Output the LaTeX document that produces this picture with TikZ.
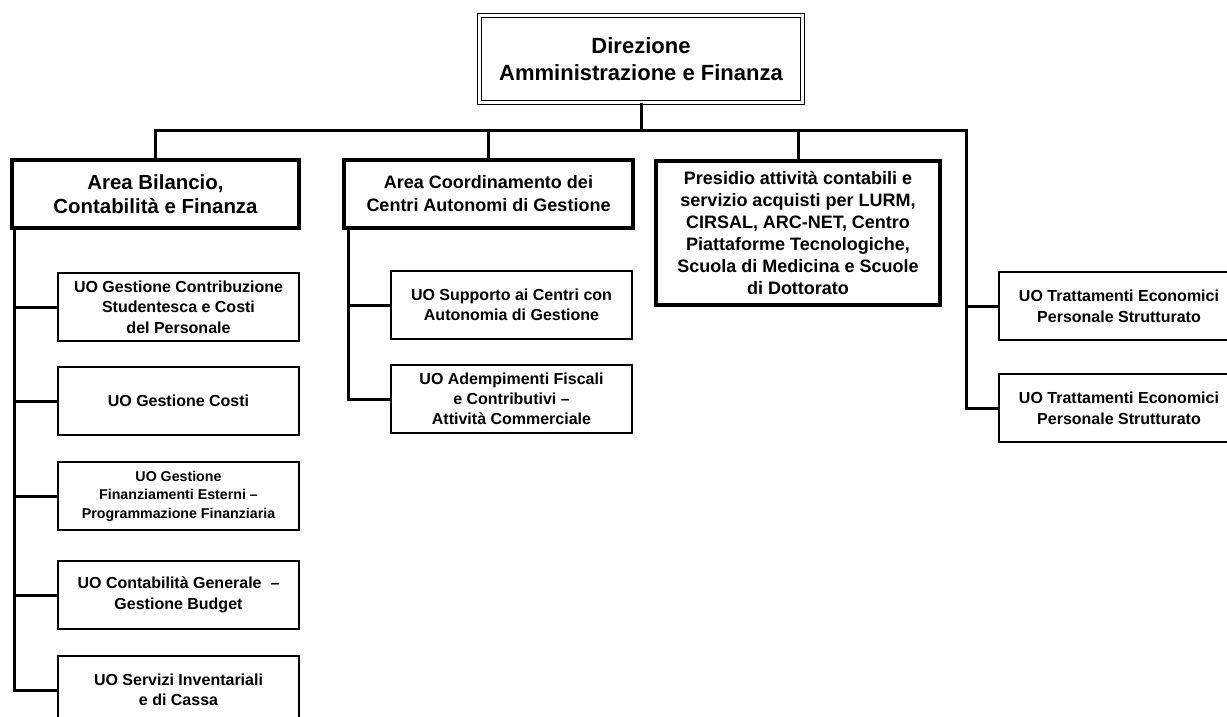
\documentclass[tikz,border=0pt]{standalone}
\usepackage{fontspec}
\setmainfont{Liberation Sans}
\begin{document}
\begin{tikzpicture}[x=1pt,y=-1pt,
  conn/.style={line width=3pt},
  topbox/.style={draw, double, line width=1.5pt, double distance=2.2pt, inner sep=0pt, align=center,
    font=\fontsize{22}{27}\selectfont\bfseries},
  areabox/.style={draw, line width=4pt, inner sep=0pt, align=center},
  uobox/.style={draw, line width=2pt, inner sep=0pt, align=center,
    minimum width=241pt, minimum height=68pt,
    font=\fontsize{16}{20.5}\selectfont\bfseries},
]
\clip (0,0) rectangle (1227,717);
\fill[white] (0,0) rectangle (1227,717);

% top
\node[topbox, minimum width=323pt, minimum height=87pt] (top) at (641,59) {Direzione\\Amministrazione e Finanza};

% areas
\node[areabox, minimum width=287pt, minimum height=68pt, font=\fontsize{20.4}{24}\selectfont\bfseries]
  (a1) at (155.5,194) {Area Bilancio,\\Contabilità e Finanza};
\node[areabox, minimum width=289pt, minimum height=68pt, font=\fontsize{18}{23}\selectfont\bfseries]
  (a2) at (488.5,194) {Area Coordinamento dei\\Centri Autonomi di Gestione};
\node[areabox, minimum width=284pt, minimum height=144pt, font=\fontsize{18}{22}\selectfont\bfseries]
  (p) at (798,233) {Presidio attività contabili e\\servizio acquisti per LURM,\\CIRSAL, ARC-NET, Centro\\Piattaforme Tecnologiche,\\Scuola di Medicina e Scuole\\di Dottorato};

% left column
\node[uobox] (u1) at (178.5,307) {UO Gestione Contribuzione\\Studentesca e Costi\\del Personale};
\node[uobox] (u2) at (178.5,401) {UO Gestione Costi};
\node[uobox, font=\fontsize{14.2}{18.5}\selectfont\bfseries] (u3) at (178.5,496) {UO Gestione\\Finanziamenti Esterni –\\Programmazione Finanziaria};
\node[uobox] (u4) at (178.5,595) {UO Contabilità Generale \ –\\Gestione Budget};
\node[uobox] (u5) at (178.5,690) {UO Servizi Inventariali\\e di Cassa};

% middle column
\node[uobox, font=\fontsize{16}{20.5}\selectfont\bfseries] (v1) at (511.5,305) {UO Supporto ai Centri con\\Autonomia di Gestione};
\node[uobox, font=\fontsize{16}{20}\selectfont\bfseries] (v2) at (511.5,399) {UO Adempimenti Fiscali\\e Contributivi –\\Attività Commerciale};

% right column
\node[uobox, font=\fontsize{16}{21}\selectfont\bfseries] (w1) at (1119,306) {UO Trattamenti Economici\\Personale Strutturato};
\node[uobox, font=\fontsize{16}{21}\selectfont\bfseries] (w2) at (1119,408) {UO Trattamenti Economici\\Personale Strutturato};

% connectors
\coordinate (busL) at (155,130);
\coordinate (busR) at (966,130);
\coordinate (lsp) at (14,0);
\coordinate (csp) at (348,0);

\draw[conn] (top.south) -- (top.south |- busL);
\draw[conn] (a1.north) |- (busR) -- (busR |- w2.west) -- (w2.west);
\draw[conn] (a2.north) -- (a2.north |- busL);
\draw[conn] (p.north) -- (p.north |- busL);
\draw[conn] (busR |- w1.west) -- (w1.west);

\draw[conn] (a1.south -| lsp) |- (u5.west);
\foreach \u in {u1,u2,u3,u4} \draw[conn] (lsp |- \u.west) -- (\u.west);

\draw[conn] (a2.south -| csp) |- (v2.west);
\draw[conn] (csp |- v1.west) -- (v1.west);
\end{tikzpicture}
\end{document}
